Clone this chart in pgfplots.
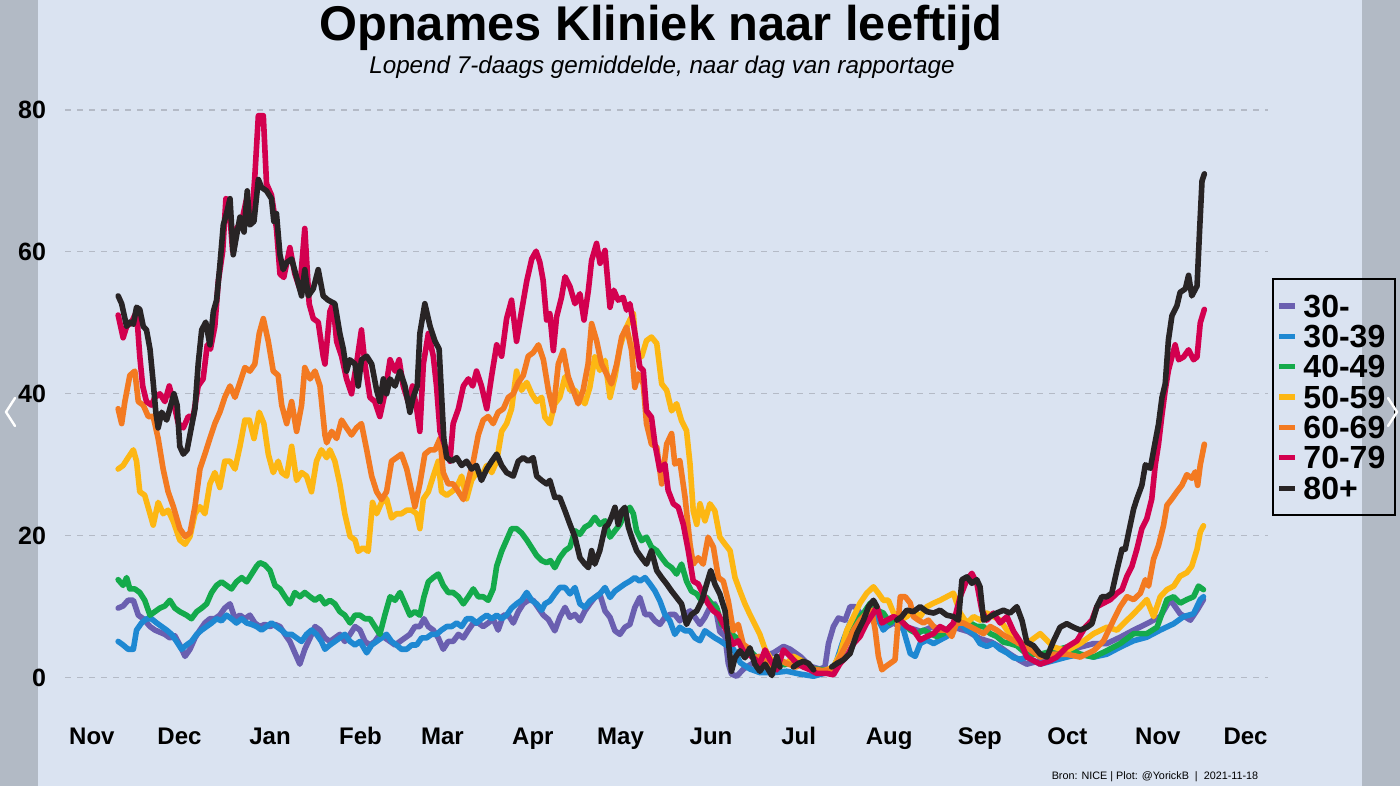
\documentclass[border=0pt]{standalone}
\usepackage{pgfplots}
\usepackage{pgfplotstable}
\pgfplotsset{compat=1.18}
\usepackage{fontspec}
\setmainfont{Liberation Sans}

\definecolor{bgc}{HTML}{DAE3F1}
\definecolor{gridc}{HTML}{B4BAC6}
\definecolor{cA}{HTML}{6A5FB0}
\definecolor{cB}{HTML}{1E88D2}
\definecolor{cC}{HTML}{14AA4B}
\definecolor{cD}{HTML}{FDB713}
\definecolor{cE}{HTML}{F37A21}
\definecolor{cF}{HTML}{D3004F}
\definecolor{cG}{HTML}{282425}

% day = days since 1 Nov 2020, value = 7-day average of admissions
\pgfplotstableread{
d v
9.0 9.8
10.7 10.1
12.4 10.9
14.2 10.9
15.9 8.8
17.6 8.3
19.9 7.2
21.6 6.7
23.3 6.4
25.0 6.1
26.7 5.6
28.4 5.9
30.1 4.6
31.9 3.0
33.6 4.0
35.3 5.6
37.0 6.7
38.7 7.7
40.4 8.3
42.1 8.3
43.8 8.8
45.5 9.8
47.3 10.4
49.0 8.3
50.7 8.8
52.4 8.3
54.1 8.8
55.8 7.7
57.5 7.2
59.2 7.5
61.0 7.2
62.7 7.5
64.4 7.2
66.1 6.1
67.8 5.1
69.5 3.5
71.2 1.9
72.9 4.0
74.7 5.6
76.4 7.2
78.1 6.7
79.8 5.6
81.5 5.1
83.2 5.6
84.9 6.1
86.6 5.1
88.4 6.1
90.1 7.2
91.8 6.7
93.5 5.1
95.2 4.6
96.9 5.1
98.6 6.1
100.3 5.6
102.1 5.1
103.8 4.6
105.5 5.1
107.2 5.6
108.9 6.1
110.6 7.2
112.3 7.2
113.7 8.3
115.2 7.2
116.9 6.7
118.6 5.6
120.3 4.0
122.0 5.1
123.7 5.1
125.5 6.1
127.2 5.6
128.9 6.7
130.6 7.7
132.3 7.7
134.0 7.2
135.7 7.7
137.4 8.3
139.1 6.7
140.9 8.8
142.6 8.8
144.3 7.7
146.0 9.3
147.7 10.4
149.4 10.9
151.1 10.9
152.9 9.8
154.6 8.8
156.3 8.2
158.5 6.6
160.2 8.5
162.0 9.9
163.7 8.5
165.4 8.9
167.1 8.0
168.8 9.4
170.5 10.4
172.2 11.3
173.9 11.8
175.7 9.4
177.4 8.5
179.1 6.6
180.8 6.1
182.5 7.1
184.2 7.5
185.9 9.9
187.6 11.3
189.4 8.9
191.1 8.9
192.8 8.0
194.5 7.5
196.2 8.5
197.9 8.9
199.6 8.9
201.3 8.0
203.1 8.9
204.8 9.4
206.5 8.5
208.2 7.5
209.9 8.5
211.6 9.9
213.3 10.4
215.0 6.5
216.8 5.8
217.9 2.0
219.0 0.5
220.8 0.2
223.1 1.2
226.5 2.1
229.9 3.0
233.4 3.5
236.8 4.4
239.1 4.0
242.5 3.0
245.9 1.6
249.3 1.2
251.0 1.5
252.2 4.8
253.9 7.2
255.6 8.4
257.9 8.1
259.6 10.0
261.3 10.0
263.0 9.1
265.3 8.6
267.6 9.5
269.9 7.7
272.2 7.2
274.5 7.7
276.8 7.2
280.0 7.0
284.0 6.5
288.0 7.2
292.0 6.5
296.0 7.0
300.0 6.5
304.0 5.5
308.0 5.0
311.0 4.3
314.4 3.3
317.8 2.4
320.1 1.9
324.7 2.4
329.3 2.9
333.8 3.8
338.4 4.3
343.0 4.8
347.5 4.8
352.1 5.7
356.7 6.7
361.2 7.6
365.8 8.6
369.2 11.0
372.6 9.0
376.1 8.1
378.4 9.5
380.6 11.0
}\tA

\pgfplotstableread{
d v
9.0 5.1
10.7 4.6
12.4 4.0
14.2 4.0
15.3 6.7
17.0 7.7
18.7 8.3
20.4 8.3
22.2 7.7
23.9 7.2
25.6 6.7
27.3 6.1
29.0 5.1
30.7 4.0
32.4 4.6
34.1 5.1
35.9 6.1
37.6 6.7
39.3 7.2
41.0 7.7
42.7 8.3
44.4 8.0
46.1 8.8
47.8 8.3
49.5 7.7
51.3 8.3
53.0 7.7
54.7 7.5
56.4 7.2
58.1 6.7
59.8 7.2
61.5 7.7
63.2 7.2
64.9 6.7
66.6 6.1
68.4 6.1
70.1 5.6
71.8 5.1
73.5 6.1
75.2 6.7
76.9 6.1
78.6 5.1
79.8 4.0
81.5 4.6
83.2 5.1
84.9 5.6
86.6 6.1
88.4 5.1
90.1 4.6
91.8 5.1
94.1 3.5
95.8 4.6
97.5 5.1
99.2 5.6
100.9 6.1
102.6 5.1
104.3 4.6
106.0 4.0
107.8 4.0
109.5 4.6
111.2 4.6
112.9 5.6
114.6 5.6
116.3 6.1
118.0 6.1
119.7 6.7
121.5 7.2
123.2 7.2
124.9 7.7
126.6 7.2
128.3 8.3
130.0 8.3
131.7 7.7
133.4 8.3
135.2 8.8
136.9 8.3
138.6 8.8
140.3 8.3
142.0 8.8
143.7 9.8
145.4 10.4
147.1 10.9
148.9 12.0
150.6 10.9
152.3 10.4
154.0 9.5
155.1 10.4
156.8 10.8
158.5 11.8
160.2 12.7
162.0 12.7
163.7 11.8
165.4 12.7
167.1 10.4
168.8 9.9
170.5 10.8
172.2 11.3
173.9 11.8
175.7 12.7
177.4 11.3
179.1 12.2
180.8 12.7
182.5 13.2
184.2 13.6
185.9 14.1
187.6 13.6
189.4 14.1
191.1 13.2
192.8 12.2
194.5 10.8
196.2 8.9
197.9 8.0
199.6 6.1
201.3 7.1
203.1 6.6
204.8 6.6
206.5 5.6
208.2 5.2
209.9 6.6
211.6 6.1
213.3 5.6
215.0 5.2
216.8 4.7
219.7 4.0
222.0 2.1
225.4 1.2
228.8 0.7
233.4 0.7
237.9 0.9
242.5 0.5
247.1 0.2
251.6 0.7
254.0 1.5
255.1 2.5
257.3 5.3
259.6 7.7
261.9 8.6
264.2 9.1
266.5 9.5
268.8 8.6
271.0 6.7
273.3 7.7
275.6 8.1
277.9 6.7
280.2 3.4
281.9 3.0
283.6 4.8
285.9 5.3
288.2 4.8
290.4 5.3
292.7 5.8
295.0 6.7
297.3 7.7
299.6 6.7
301.9 6.2
304.1 4.8
306.4 4.4
308.7 4.8
311.0 4.0
313.3 3.5
315.6 2.8
318.0 2.6
320.1 2.9
324.7 1.9
329.3 2.4
333.8 2.9
338.4 3.3
343.0 2.9
347.5 3.3
352.1 4.3
356.7 5.2
361.2 5.7
365.8 6.7
370.4 7.6
373.8 8.6
377.2 9.0
379.5 11.0
380.6 11.4
}\tB

\pgfplotstableread{
d v
9.0 13.8
10.7 13.0
11.9 14.1
13.0 12.5
14.7 12.5
16.4 12.0
18.1 10.9
19.9 8.8
21.6 9.3
23.3 9.8
25.0 10.1
26.7 10.9
28.4 9.8
30.1 9.3
32.4 8.8
34.1 8.3
35.9 9.3
37.6 9.8
39.3 10.4
41.0 12.0
42.7 13.0
44.4 13.5
46.1 13.0
47.8 12.5
49.5 13.5
51.3 14.1
53.0 13.5
54.7 14.6
56.4 15.7
57.5 16.2
59.2 15.9
61.0 15.1
62.7 13.0
64.4 12.5
66.1 11.4
67.8 10.4
69.5 12.0
71.2 11.4
72.9 12.0
74.7 11.4
76.4 10.9
78.1 11.4
79.8 10.4
81.5 10.9
83.2 10.4
84.9 9.3
86.6 8.8
88.4 7.7
90.1 8.8
91.8 8.8
93.5 8.3
95.2 8.3
96.9 7.2
98.6 6.1
100.3 8.8
102.1 11.4
103.8 10.9
105.5 12.0
107.2 10.4
108.9 8.8
110.6 9.3
112.3 8.8
113.7 11.4
115.2 13.5
116.9 14.1
118.6 14.6
120.3 13.0
122.0 12.0
123.7 12.0
125.5 11.4
127.2 10.4
128.9 11.4
130.6 12.5
132.3 11.4
134.0 11.4
135.7 10.9
137.4 12.5
138.6 15.7
140.3 17.8
142.0 19.4
143.7 21.0
145.4 21.0
147.1 20.4
148.9 19.4
150.6 18.3
152.3 17.2
154.0 16.5
155.7 16.2
157.0 16.5
158.5 15.5
160.2 16.9
162.0 17.9
163.7 18.4
165.4 20.7
167.1 20.2
168.8 21.2
170.5 21.6
172.2 22.6
173.9 21.6
175.7 22.1
177.4 19.8
179.1 20.7
180.8 21.6
182.5 23.1
184.2 24.0
185.4 23.1
186.5 20.7
188.2 19.3
189.9 19.8
191.6 18.4
193.4 17.9
195.1 16.9
196.8 16.0
198.5 15.5
200.2 14.6
201.9 16.0
203.6 13.6
205.3 12.2
207.1 11.8
208.8 10.8
210.5 11.3
212.2 10.4
213.9 9.9
215.6 7.5
217.4 7.1
219.1 6.1
220.8 5.6
222.5 4.7
224.2 4.2
226.5 3.3
228.7 2.4
231.0 2.0
234.0 2.5
237.0 1.8
240.0 2.2
244.0 1.5
248.0 1.2
252.0 1.0
255.1 1.5
257.3 3.9
259.6 6.2
261.9 8.1
264.2 9.1
266.5 10.5
268.8 9.5
271.0 9.1
273.3 7.7
275.6 8.6
277.9 7.7
280.2 6.7
282.5 6.2
284.8 6.7
287.0 6.2
289.3 5.8
291.6 6.2
293.9 7.2
296.1 7.7
298.4 8.1
300.7 7.7
303.0 7.2
305.3 7.2
307.6 6.2
309.8 5.8
312.1 5.0
314.4 4.8
316.7 4.5
320.1 3.3
324.7 3.3
329.3 3.8
333.8 4.3
338.4 3.3
343.0 2.9
347.5 3.8
352.1 4.8
356.7 6.2
361.2 6.2
364.7 7.1
368.1 11.0
370.4 11.4
372.6 10.5
374.9 11.0
377.2 11.4
378.9 12.9
380.6 12.4
}\tC

\pgfplotstableread{
d v
9.0 29.4
10.7 29.9
12.4 31.0
14.2 32.1
15.3 30.5
16.4 26.2
18.1 25.7
19.9 23.1
21.0 21.5
22.7 24.7
24.4 23.1
26.1 23.6
27.9 22.0
30.1 19.4
31.9 18.8
33.6 19.9
35.3 23.1
37.0 24.1
38.7 23.1
40.4 27.3
42.1 28.9
43.8 26.8
45.5 30.5
47.3 30.5
49.0 29.4
50.7 32.6
52.4 36.3
53.9 36.3
55.5 33.7
57.3 37.4
58.9 35.8
60.4 31.5
62.1 28.9
63.8 30.5
65.0 28.9
66.7 28.4
68.4 32.6
70.1 27.8
71.8 28.9
73.5 28.4
75.2 26.2
76.9 30.5
78.6 32.1
80.4 31.0
81.5 32.1
83.2 30.5
84.9 27.3
86.6 23.1
88.4 19.9
90.1 19.4
91.2 17.8
92.9 18.3
94.6 17.8
96.1 24.7
97.5 23.1
99.2 24.7
100.9 25.2
102.6 22.5
104.3 23.1
106.0 23.1
107.8 23.6
109.5 23.6
111.2 23.1
112.3 21.0
113.5 25.2
115.2 26.2
116.9 28.4
118.6 30.5
119.7 26.2
121.5 25.7
123.2 26.2
124.9 26.8
126.6 28.4
128.3 25.2
130.0 27.8
131.7 28.9
133.4 28.4
135.2 29.9
136.9 28.9
138.6 30.5
140.3 34.7
142.0 35.8
143.7 37.9
145.4 43.2
147.1 40.5
148.9 41.6
150.6 40.0
152.3 38.9
154.0 39.5
155.1 36.7
156.8 35.8
158.5 38.6
160.2 39.5
162.0 42.4
163.7 40.5
165.4 40.5
167.1 39.5
168.8 38.6
170.5 40.9
172.2 45.2
173.9 43.3
175.7 44.7
177.4 39.5
179.1 42.4
180.8 46.6
182.5 48.9
184.2 50.4
185.4 51.3
186.5 45.2
188.2 45.2
189.9 47.5
191.6 48.0
193.4 47.1
195.1 41.4
196.8 40.5
198.5 37.6
200.2 38.6
201.9 36.2
203.6 34.8
204.8 30.1
205.9 23.5
207.1 21.6
208.2 24.5
209.9 22.1
211.6 24.5
213.3 23.5
215.0 19.8
216.8 18.8
218.5 17.9
220.2 14.1
221.9 12.2
223.6 10.4
225.3 8.9
227.0 7.5
228.7 6.1
230.5 4.0
233.4 2.0
235.6 2.5
237.9 2.0
240.2 3.0
242.5 2.5
244.8 2.0
247.1 1.1
249.3 0.8
251.6 1.1
253.9 1.5
256.2 3.4
258.5 6.7
260.8 8.6
263.0 10.5
265.3 11.9
267.6 12.8
269.3 11.9
271.0 10.9
272.7 10.9
274.5 9.1
276.8 8.1
279.0 8.6
281.3 9.5
283.6 8.6
285.9 10.0
288.2 10.5
290.4 10.9
292.7 11.4
295.0 11.9
297.3 9.1
299.6 7.7
301.9 8.6
304.1 8.1
306.4 9.1
308.7 8.6
311.0 8.1
313.3 6.7
315.6 5.8
317.3 4.8
320.1 4.8
324.7 6.2
329.3 4.3
333.8 3.8
338.4 4.8
343.0 6.2
347.5 7.1
351.0 6.7
354.4 8.1
356.7 9.0
359.0 10.0
361.2 11.0
363.5 8.6
365.8 11.4
368.1 12.4
370.4 12.9
372.6 14.3
374.9 14.8
376.6 15.7
378.4 18.1
379.5 20.5
380.6 21.4
}\tD

\pgfplotstableread{
d v
9.0 37.9
10.2 35.8
11.3 38.9
13.0 42.6
14.7 43.2
15.9 38.9
17.6 38.4
19.3 36.8
21.0 36.8
22.7 33.7
24.4 29.4
26.1 26.2
27.9 24.1
30.1 21.0
31.9 19.9
33.6 20.4
35.3 24.1
37.0 29.4
38.7 31.5
40.4 33.7
42.1 35.8
43.8 37.4
45.5 39.5
47.3 41.1
49.0 39.5
50.7 41.6
52.4 43.7
54.1 43.2
55.8 44.2
57.3 48.5
58.7 50.6
60.4 47.4
62.1 43.2
63.8 42.6
65.0 38.4
66.7 35.8
68.4 38.9
70.1 34.7
71.8 38.4
72.9 43.7
74.7 42.1
76.4 43.2
78.1 41.1
79.8 34.2
80.4 33.1
82.1 34.7
83.8 33.7
85.5 36.3
87.2 35.2
88.9 34.2
90.6 35.2
92.3 35.8
94.1 32.1
95.8 28.4
97.5 26.2
99.2 25.1
100.9 26.2
102.6 30.5
104.3 31.0
106.0 31.5
107.8 29.4
109.5 26.2
110.6 24.1
112.3 27.3
114.0 31.5
115.8 32.1
117.5 32.1
119.2 33.7
120.3 28.9
122.0 27.3
123.7 27.3
125.5 26.2
127.2 25.1
128.9 27.8
130.6 30.5
132.3 34.2
134.0 36.3
135.7 36.8
137.4 35.8
139.1 37.4
140.9 37.9
142.6 39.5
144.3 40.0
146.0 41.6
147.7 42.6
149.4 45.3
151.1 45.8
152.9 46.9
154.6 44.8
156.3 40.5
158.0 37.6
159.7 44.2
161.4 46.1
163.1 42.4
164.8 40.5
166.5 38.6
168.2 40.5
169.9 44.2
171.1 49.9
172.8 47.5
174.5 44.2
176.2 42.8
177.9 41.4
179.7 44.2
181.4 48.0
183.1 49.4
184.8 46.1
185.9 40.9
187.1 42.8
188.8 41.4
189.9 35.8
191.6 32.9
193.4 32.5
195.1 27.3
196.8 32.9
198.5 34.4
199.6 30.1
201.3 30.6
203.1 25.4
204.8 18.8
205.9 16.0
207.6 16.9
209.3 16.0
211.0 19.8
212.8 18.4
214.5 14.1
216.2 13.6
217.9 10.8
219.6 6.6
221.3 7.5
223.0 4.7
224.7 4.2
226.5 2.8
228.7 3.0
231.1 2.0
233.4 1.5
235.6 2.5
238.0 2.0
241.0 1.5
244.0 2.0
247.0 1.2
250.0 1.0
253.9 1.1
256.2 3.0
258.5 4.8
260.8 6.7
263.0 8.1
265.3 9.1
267.0 9.5
268.2 6.7
269.3 3.0
270.5 1.1
271.6 1.5
273.3 2.0
275.0 2.5
275.8 6.7
276.8 11.4
278.5 11.4
280.2 10.5
281.3 8.6
283.0 8.1
284.7 7.7
286.4 8.1
288.2 7.2
290.4 6.7
292.7 6.7
294.4 5.8
296.1 7.7
298.4 7.7
300.7 7.2
303.0 6.7
305.3 6.2
307.6 7.2
309.8 6.7
312.1 6.0
314.4 5.5
316.7 5.0
320.1 4.3
324.7 2.9
329.3 3.3
333.8 3.3
338.4 2.9
343.0 3.8
346.4 5.2
349.8 8.1
352.1 10.0
354.4 11.4
356.7 11.0
359.0 11.9
360.7 13.8
361.8 12.9
363.5 16.7
365.2 18.6
366.9 21.4
368.1 24.3
369.8 25.2
371.5 26.2
373.2 27.1
374.9 28.6
376.6 28.1
377.8 29.0
378.6 27.1
379.5 30.0
380.9 32.9
}\tE

\pgfplotstableread{
d v
9.0 51.1
10.7 47.9
11.9 49.5
13.6 50.1
15.3 51.6
16.4 45.3
17.4 41.1
18.7 38.9
20.4 38.4
21.6 39.5
23.3 40.0
25.0 38.9
26.5 41.1
27.9 38.9
29.6 35.8
31.3 35.2
33.0 36.8
34.7 36.8
36.4 41.1
38.1 42.1
39.5 46.9
40.6 46.3
42.1 49.5
43.3 55.9
44.8 60.1
45.9 67.5
47.0 66.5
48.2 60.1
49.5 63.3
51.3 64.3
53.0 67.5
54.7 64.3
55.8 70.7
57.0 79.2
58.7 79.2
59.8 69.6
61.5 68.0
63.2 63.3
64.4 56.9
65.7 56.4
67.8 60.6
69.5 56.9
71.2 54.8
72.9 63.3
74.4 52.7
75.8 50.6
77.5 50.1
79.2 45.3
79.8 44.2
81.5 51.6
82.6 52.7
83.8 47.4
85.5 45.3
87.2 42.1
88.9 40.0
90.6 44.2
92.3 49.0
93.5 44.2
95.2 39.5
96.9 38.9
98.6 36.8
100.3 40.0
102.1 44.8
103.8 43.2
105.2 44.8
106.6 41.1
108.3 38.9
109.8 41.1
111.2 37.9
112.3 34.7
113.5 44.2
115.2 48.5
116.9 45.3
118.0 41.1
119.2 34.7
120.9 32.6
122.6 30.5
123.7 35.8
125.5 37.9
127.2 41.1
128.9 42.1
130.4 41.1
131.7 43.2
133.4 41.1
135.2 37.9
136.9 42.6
138.6 46.9
140.3 45.3
142.0 50.6
143.7 53.2
145.4 47.4
147.1 51.6
148.9 55.9
150.6 59.0
152.1 60.1
153.4 58.5
154.5 56.0
155.7 50.4
156.8 51.3
158.0 46.1
159.1 50.8
160.8 53.6
162.0 56.5
163.7 55.1
165.4 52.7
167.1 54.1
168.5 50.4
170.0 54.6
171.1 58.8
172.8 61.2
174.0 58.4
175.7 60.2
177.4 52.2
178.7 54.6
180.2 53.2
181.9 53.6
183.1 51.8
184.2 52.7
185.4 49.9
186.5 47.1
187.6 43.8
188.8 43.3
189.9 37.6
191.6 36.7
192.8 32.9
194.5 29.2
196.2 30.1
197.3 26.4
199.1 24.5
200.8 24.0
202.5 21.6
204.2 17.9
205.9 13.6
207.6 13.2
209.3 11.8
211.0 10.4
212.8 9.4
214.5 8.9
216.2 7.5
217.9 6.1
219.6 4.7
221.3 5.2
223.0 3.8
224.7 3.3
226.5 2.8
228.7 2.0
230.5 3.9
232.2 2.5
234.5 1.1
236.8 3.9
239.1 3.0
241.4 2.0
243.6 1.5
245.9 1.1
248.2 0.6
251.6 0.6
253.9 0.4
256.2 2.0
258.5 3.0
260.8 4.8
263.0 5.8
265.3 7.7
267.6 9.1
268.8 10.0
270.5 7.7
272.2 8.1
274.5 8.6
276.8 8.1
279.0 7.2
281.3 6.7
283.6 5.3
285.9 5.8
288.2 6.2
290.4 7.2
292.7 6.7
295.0 7.7
297.3 11.4
299.6 13.8
301.3 14.7
303.0 13.3
304.7 9.5
306.4 8.1
308.7 9.1
311.0 7.7
313.3 8.6
315.6 6.5
318.0 5.0
320.1 2.9
324.7 1.9
328.1 2.4
330.4 2.9
333.8 4.3
337.3 5.2
340.1 7.1
342.4 8.1
344.1 10.0
346.4 10.5
348.7 11.0
351.0 11.9
352.7 12.4
354.4 14.3
356.1 15.7
357.8 18.1
359.5 21.0
361.2 22.4
362.9 25.2
364.1 30.0
365.2 32.9
366.4 37.1
367.5 40.5
368.6 43.3
369.8 45.2
370.9 46.9
372.1 44.8
373.8 45.2
375.5 46.2
377.2 44.8
378.4 45.2
379.5 50.0
380.9 51.9
}\tF

\pgfplotstableread{
d v
9.0 53.8
10.2 52.7
11.9 49.5
13.0 50.1
14.2 49.8
15.3 52.2
16.4 51.9
17.6 49.5
18.7 49.0
19.9 46.3
21.0 41.6
21.9 37.4
22.7 35.2
23.9 37.4
25.6 36.3
26.7 37.9
28.1 40.0
29.2 38.4
30.1 32.6
31.3 31.5
32.6 32.1
33.8 34.7
35.3 37.9
36.4 44.2
37.6 49.0
39.0 50.1
40.4 46.9
41.6 51.6
42.7 53.2
43.8 58.0
45.0 63.8
46.1 65.4
47.3 67.5
48.4 59.6
49.5 62.2
50.7 64.9
52.1 62.8
53.2 68.6
54.1 63.8
55.5 64.3
57.0 70.2
58.1 69.1
59.8 68.6
61.5 67.5
62.3 64.3
63.2 65.4
64.4 59.6
65.5 57.5
66.7 58.5
68.4 59.0
70.1 56.4
71.8 53.8
72.9 57.5
74.1 53.8
75.8 54.8
77.5 57.5
79.2 53.8
80.9 53.2
83.2 52.7
84.9 48.5
86.1 46.3
87.2 43.2
88.3 44.8
90.1 44.2
91.2 41.1
92.3 44.8
94.1 45.3
95.8 44.2
97.5 40.5
98.6 38.9
99.8 42.1
100.9 40.0
102.1 42.1
103.8 41.1
105.5 43.2
107.2 41.1
108.9 37.4
110.0 39.5
111.4 41.1
112.3 48.5
114.0 52.7
115.8 49.5
117.5 47.4
118.9 46.3
119.7 40.0
120.5 33.7
121.5 31.0
123.2 30.5
124.9 31.0
126.6 29.9
128.3 30.5
130.0 29.4
131.7 29.9
133.4 27.8
135.2 29.4
136.9 30.5
138.6 31.5
140.3 29.9
142.0 28.9
144.3 28.4
146.0 30.5
147.7 31.0
149.4 30.5
151.1 31.0
152.3 28.4
154.0 27.8
155.7 27.3
156.8 27.8
158.5 25.4
160.2 25.4
162.0 23.5
163.7 21.6
165.4 19.8
167.1 16.9
168.8 16.0
170.0 15.5
171.1 17.9
172.2 16.0
173.9 17.9
175.7 21.2
176.8 21.6
177.9 22.6
179.1 24.0
180.2 21.6
181.4 23.5
182.5 24.0
183.7 21.2
184.8 19.8
186.5 17.9
188.2 16.9
189.9 16.0
191.6 17.9
193.4 15.1
195.1 14.1
196.8 13.2
198.5 12.2
200.2 11.3
201.9 10.4
203.6 7.5
205.3 8.9
207.1 9.4
208.8 10.8
210.5 13.2
211.9 15.1
213.3 13.2
215.0 11.8
216.8 9.4
217.9 5.2
219.0 0.9
220.2 2.8
221.9 3.8
223.6 2.8
225.3 4.2
227.0 1.9
228.7 0.9
230.5 1.9
232.8 0.3
234.5 3.0
235.6 1.5
237.0 nan
240.2 1.5
241.9 2.0
243.6 2.3
245.4 2.0
247.1 1.1
250.0 nan
253.3 1.5
255.1 2.0
257.3 2.5
259.6 3.4
261.9 6.2
264.2 8.1
265.9 10.0
267.6 10.9
268.8 10.0
272.0 nan
275.6 8.1
277.3 8.6
279.0 9.5
281.3 9.3
283.6 10.0
285.9 9.3
288.2 9.1
290.4 9.5
292.7 8.8
295.0 8.6
296.7 8.1
297.9 13.8
299.6 14.2
301.3 13.3
303.0 13.8
304.1 12.8
305.3 8.1
307.6 8.6
309.8 9.1
312.1 9.5
314.4 9.1
316.7 10.0
318.5 8.0
320.1 5.0
322.4 4.5
324.7 3.3
327.0 2.9
329.3 5.2
331.5 7.1
333.8 7.6
336.1 7.1
338.4 6.7
340.7 7.1
342.4 7.6
344.1 10.0
345.8 11.4
347.5 11.4
349.2 11.9
351.0 15.2
352.7 18.1
353.8 18.1
355.0 20.5
356.7 23.8
357.8 25.2
359.5 27.1
360.7 30.0
362.4 29.5
364.1 33.3
365.2 35.7
366.4 39.5
367.5 41.4
368.6 47.6
369.8 51.0
371.5 52.4
372.6 54.3
374.4 54.8
375.5 56.7
376.6 53.8
378.4 55.2
379.3 63.3
380.1 70.0
380.9 71.0
}\tG

\begin{document}
\begin{tikzpicture}
\useasboundingbox (0pt,0pt) rectangle (700pt,-393pt);
\fill[bgc] (0pt,0pt) rectangle (700pt,-393pt);

\node[anchor=base, font=\fontsize{24.4}{24.4}\selectfont\bfseries] at (330.5pt,-20.5pt) {Opnames Kliniek naar leeftijd};
\node[anchor=base, font=\fontsize{12.1}{12.1}\selectfont\itshape] at (331pt,-37pt) {Lopend 7-daags gemiddelde, naar dag van rapportage};
\node[anchor=base, font=\fontsize{5.4}{5.4}\selectfont] at (577.5pt,-389.5pt) {Bron: NICE | Plot: @YorickB \ | \ 2021-11-18};

\begin{axis}[
  at={(32.5pt,-353pt)}, anchor=south west,
  scale only axis, width=601.5pt, height=312.2pt,
  xmin=-9.2, xmax=402.7, ymin=-4, ymax=84,
  axis line style={draw=none}, tick style={draw=none},
  major tick length=0pt,
  xtick={0,30,61,92,120,151,181,212,242,273,304,334,365,395},
  xticklabels={Nov,Dec,Jan,Feb,Mar,Apr,May,Jun,Jul,Aug,Sep,Oct,Nov,Dec},
  ytick={0,20,40,60,80},
  /pgf/number format/assume math mode=true,
  xticklabel style={font=\fontsize{12}{12}\selectfont\bfseries, text height=8.6pt, text depth=0pt, yshift=-7pt},
  yticklabel style={font=\fontsize{12.5}{12.5}\selectfont\bfseries, xshift=-6pt},
  ymajorgrids, grid style={gridc, line width=0.6pt, dash pattern=on 3pt off 3pt},
  unbounded coords=jump,
  every axis plot/.append style={line width=2.8pt, line join=round, line cap=round},
  legend style={at={(1.0033,0.6855)}, anchor=north west, draw=black, line width=0.9pt,
    fill=bgc, inner xsep=2pt, inner ysep=6.5pt,
    font=\fontsize{16}{16}\selectfont\bfseries,
    nodes={inner xsep=2.7pt, inner ysep=1.5pt, text depth=0pt}, row sep=1pt},
  legend cell align=left,
  legend image code/.code={\draw[line width=2.6pt, line cap=butt] (0pt,0pt) -- (8pt,0pt);},
]
\addplot[cA] table[x=d, y=v] {\tA}; \addlegendentry{30-}
\addplot[cB] table[x=d, y=v] {\tB}; \addlegendentry{30-39}
\addplot[cC] table[x=d, y=v] {\tC}; \addlegendentry{40-49}
\addplot[cD] table[x=d, y=v] {\tD}; \addlegendentry{50-59}
\addplot[cE] table[x=d, y=v] {\tE}; \addlegendentry{60-69}
\addplot[cF] table[x=d, y=v] {\tF}; \addlegendentry{70-79}
\addplot[cG] table[x=d, y=v] {\tG}; \addlegendentry{80+}
\end{axis}

% viewer side bars with arrows
\fill[black, opacity=0.18] (0pt,0pt) rectangle (19pt,-393pt);
\fill[black, opacity=0.18] (681pt,0pt) rectangle (700pt,-393pt);
\draw[white, line width=1.2pt, line cap=round, line join=round] (7.5pt,-199pt) -- (3pt,-206pt) -- (7.5pt,-213pt);
\draw[white, line width=1.2pt, line cap=round, line join=round] (694pt,-199pt) -- (698.5pt,-206pt) -- (694pt,-213pt);
\end{tikzpicture}
\end{document}
